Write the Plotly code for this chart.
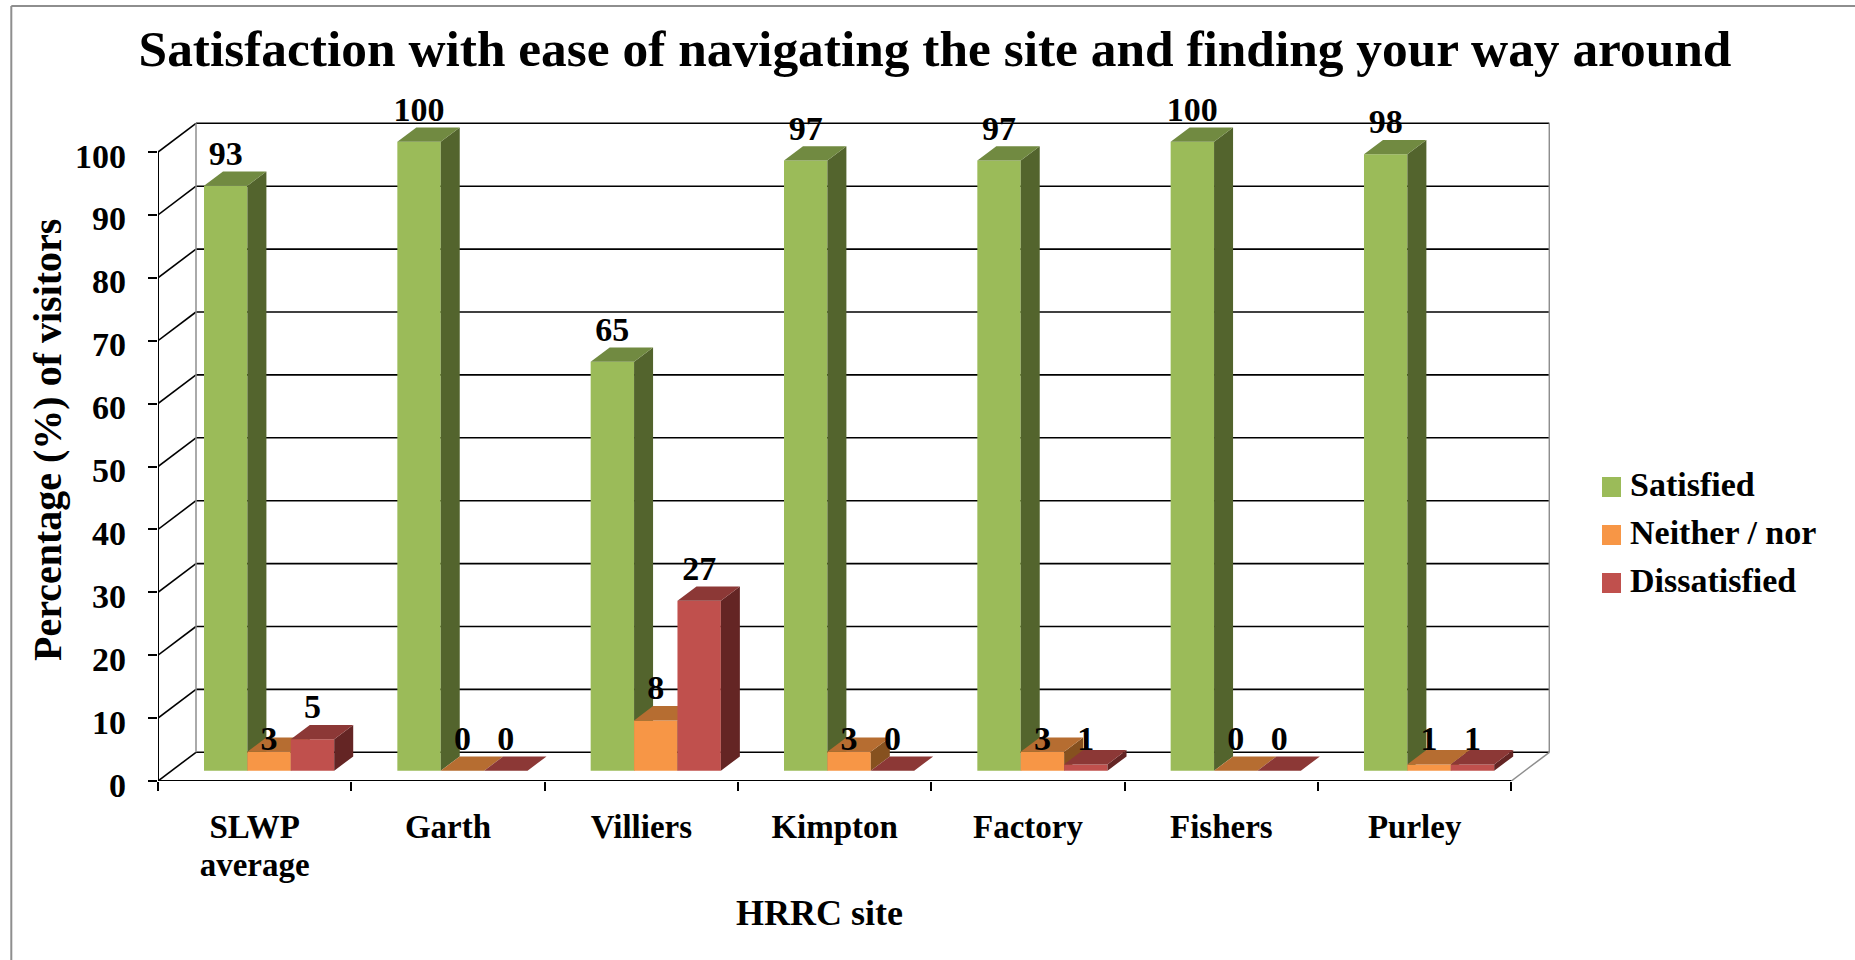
import plotly.graph_objects as go

# Survey results per site
sites = ["SLWP<br>average", "Garth", "Villiers", "Kimpton", "Factory", "Fishers", "Purley"]
satisfied = [93, 100, 65, 97, 97, 100, 98]
neither = [3, 0, 8, 3, 3, 0, 1]
dissatisfied = [5, 0, 27, 0, 1, 0, 1]
y_ticks = list(range(0, 101, 10))

series = [
    ("Satisfied", satisfied, "#9BBB59", "#718A41", "#53642D"),
    ("Neither / nor", neither, "#F79646", "#B66D31", "#86511F"),
    ("Dissatisfied", dissatisfied, "#C0504D", "#8C3836", "#642524"),
]

# Page geometry, in pixels
W, H = 1855, 960
LEFT, BOTTOM, TOP = 158, 781, 120
RIGHT = 1550
PX_PER_SITE = 193.33
PX_PER_UNIT = 6.29
PLOT_W, PLOT_H = RIGHT - LEFT, BOTTOM - TOP
X_MAX = PLOT_W / PX_PER_SITE
Y_MAX = PLOT_H / PX_PER_UNIT

# Oblique projection, expressed in axis units
WALL_DX, WALL_DY = 38 / PX_PER_SITE, 28.7 / PX_PER_UNIT
BAR_DX, BAR_DY = 19 / PX_PER_SITE, 14.3 / PX_PER_UNIT
FLOOR_Y = 10.3 / PX_PER_UNIT
BAR_W = 43.4 / PX_PER_SITE
CLUSTER_START = 0.238
LABEL_LIFT = 12.5 / PX_PER_UNIT

FONT = "Liberation Serif"
N = len(sites)


def px(x):
    return (x - LEFT) / PLOT_W


def py(y):
    return (BOTTOM - y) / PLOT_H


fig = go.Figure()


def add_line(xs, ys, color="black", width=1.6):
    fig.add_trace(go.Scatter(x=xs, y=ys, mode="lines", line=dict(color=color, width=width),
                             hoverinfo="skip", showlegend=False, cliponaxis=False))


# Back wall: horizontal grid lines and the diagonals that join them to the value axis
for v in y_ticks:
    add_line([WALL_DX, N + WALL_DX], [v + WALL_DY, v + WALL_DY])
    add_line([0, WALL_DX], [v, v + WALL_DY])
add_line([WALL_DX, WALL_DX], [WALL_DY, 100 + WALL_DY], "#8E8E8E", 1.5)
add_line([N + WALL_DX, N + WALL_DX], [WALL_DY, 100 + WALL_DY], "#8E8E8E", 1.5)
add_line([N, N + WALL_DX], [0, WALL_DY], "#8E8E8E", 1.5)

# Front axis lines
add_line([0, 0], [0, 100], "black", 2)
add_line([0, N], [0, 0], "black", 2.2)

# One overlaid subplot per series keeps the later boxes in front of the earlier ones
for slot, (name, values, front, top, side) in enumerate(series):
    ax = slot + 2
    xa, ya = f"x{ax}", f"y{ax}"
    lefts = [i + CLUSTER_START + slot * BAR_W for i in range(N)]
    fig.add_trace(go.Bar(x=[l + BAR_W / 2 for l in lefts], y=values, base=FLOOR_Y, width=BAR_W,
                         name=name, marker=dict(color=front, line=dict(width=0)),
                         xaxis=xa, yaxis=ya, showlegend=False))
    top_x, top_y, side_x, side_y = [], [], [], []
    for l, v in zip(lefts, values):
        r = l + BAR_W
        t = FLOOR_Y + v
        top_x += [l, r, r + BAR_DX, l + BAR_DX, l, None]
        top_y += [t, t, t + BAR_DY, t + BAR_DY, t, None]
        side_x += [r, r + BAR_DX, r + BAR_DX, r, r, None]
        side_y += [FLOOR_Y, FLOOR_Y + BAR_DY, t + BAR_DY, t, FLOOR_Y, None]
    for xs, ys, color in ((side_x, side_y, side), (top_x, top_y, top)):
        fig.add_trace(go.Scatter(x=xs, y=ys, mode="lines", fill="toself", fillcolor=color,
                                 line=dict(width=0), hoverinfo="skip", showlegend=False,
                                 xaxis=xa, yaxis=ya))

# Value labels; the smallest bars share one label height
for slot, (name, values, *_colors) in enumerate(series):
    fig.add_trace(go.Scatter(
        x=[i + CLUSTER_START + (slot + 0.5) * BAR_W for i in range(N)],
        y=[FLOOR_Y + (v if v > 3 else 0) + LABEL_LIFT for v in values],
        text=[str(v) for v in values], mode="text", textposition="top center",
        textfont=dict(family=FONT, size=34, color="black", weight="bold"),
        hoverinfo="skip", showlegend=False, cliponaxis=False, xaxis="x4", yaxis="y4"))

shapes = [
    dict(type="line", xref="paper", yref="paper", x0=px(11.3), x1=px(11.3), y0=py(960), y1=py(6),
         line=dict(color="#8E8E8E", width=2)),
    dict(type="line", xref="paper", yref="paper", x0=px(11.3), x1=px(W), y0=py(6), y1=py(6),
         line=dict(color="#8E8E8E", width=2)),
]
annotations = [
    dict(text="<b>HRRC site</b>", xref="paper", yref="paper", x=px(819), y=py(913), showarrow=False,
         font=dict(family=FONT, size=36, color="black"), xanchor="center", yanchor="middle"),
    dict(text="<b>Percentage (%) of visitors</b>", xref="paper", yref="paper", x=px(48), y=py(440),
         showarrow=False, textangle=-90, font=dict(family=FONT, size=40, color="black"),
         xanchor="center", yanchor="middle"),
]

# Value axis captions sit slightly below their tick marks
for v in y_ticks:
    annotations.append(dict(text=f"<b>{v}</b>", xref="paper", yref="y", x=px(128), y=v, yshift=-4,
                            showarrow=False, xanchor="right", yanchor="middle",
                            font=dict(family=FONT, size=34, color="black")))

# Legend swatches and their captions
for k, (name, _values, front, *_rest) in enumerate(series):
    y0 = 477 + 48 * k
    shapes.append(dict(type="rect", xref="paper", yref="paper", x0=px(1602), x1=px(1621),
                       y0=py(y0), y1=py(y0 + 20), fillcolor=front, line=dict(width=0)))
    annotations.append(dict(text=f"<b>{name}</b>", xref="paper", yref="paper", x=px(1628), y=py(y0 + 7),
                            showarrow=False, xanchor="left", yanchor="middle",
                            font=dict(family=FONT, size=34, color="black")))

# The base tick font sets the tighter line spacing; the spans set the glyph size
site_labels = ["<br>".join(f'<span style="font-size:33px">{part}</span>' for part in s.split("<br>"))
               for s in sites]

axis_x = dict(range=[0, X_MAX], showgrid=False, zeroline=False, showline=False)
axis_y = dict(range=[0, Y_MAX], showgrid=False, zeroline=False, showline=False)
fig.update_layout(
    width=W, height=H, autosize=False,
    margin=dict(l=LEFT, r=W - RIGHT, t=TOP, b=H - BOTTOM, pad=0),
    paper_bgcolor="white", plot_bgcolor="rgba(0,0,0,0)",
    showlegend=False, barmode="overlay", shapes=shapes, annotations=annotations,
    title=dict(text="<b>Satisfaction with ease of navigating the site and finding your way around</b>",
               x=935 / W, xanchor="center", y=1 - 48 / H, yanchor="middle",
               font=dict(family=FONT, size=51.4, color="black")),
    xaxis=dict(**axis_x, tickmode="array", tickvals=[i + 0.5 for i in range(N)], ticktext=site_labels,
               ticks="", ticklabelstandoff=27, tickangle=0,
               tickfont=dict(family=FONT, size=29.3, color="black", weight="bold"),
               minor=dict(tickmode="array", tickvals=list(range(N + 1)), ticks="outside",
                          ticklen=9, tickwidth=2, tickcolor="black")),
    yaxis=dict(**axis_y, tickmode="array", tickvals=y_ticks, ticks="outside", ticklen=9,
               tickwidth=2, tickcolor="black", showticklabels=False),
)
for ax in (2, 3, 4):
    fig.update_layout({
        f"xaxis{ax}": dict(**axis_x, overlaying="x", anchor=f"y{ax}", visible=False),
        f"yaxis{ax}": dict(**axis_y, overlaying="y", anchor=f"x{ax}", visible=False),
    })

fig.write_html("out.html")
